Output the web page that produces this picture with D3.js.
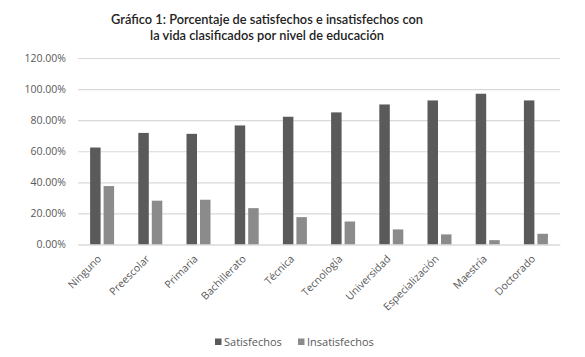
<!DOCTYPE html>
<html lang="es">
<head>
<meta charset="UTF-8">
<title>Gráfico 1</title>
<style>
	body { margin: 0; background: #fff; }
	text { font-family: "Open Sans", sans-serif; }
	.title { font-family: "Lato", sans-serif; font-weight: 600; font-size: 12.8px; fill: #222; }
	.tick text { fill: #595959; font-size: 10.5px; }
</style>
</head>
<body>
<svg id="chart" width="585" height="357"></svg>
<script src="https://cdn.jsdelivr.net/npm/d3@7"></script>
<script>
const niveles = ["Ninguno", "Preescolar", "Primaria", "Bachillerato", "Técnica", "Tecnología",
	"Universidad", "Especialización", "Maestría", "Doctorado"];
const satisfechos = [0.624, 0.718, 0.712, 0.766, 0.822, 0.850, 0.901, 0.927, 0.970, 0.927];
const insatisfechos = [0.376, 0.282, 0.288, 0.234, 0.176, 0.148, 0.097, 0.065, 0.028, 0.069];
const yTicks = [0, 0.2, 0.4, 0.6, 0.8, 1.0, 1.2];
const series = ["Satisfechos", "Insatisfechos"];
const colors = ["#5a5a5a", "#8b8b8b"];

let svg = d3.select("#chart");

let mLeft = 78, mRight = 560, mTop = 58, mBottom = 244.5;

let x = d3.scaleBand().domain(niveles).range([mLeft, mRight]);
let y = d3.scaleLinear().domain([0, 1.2]).range([mBottom, mTop]);

// title
let title = svg.append("text").attr("class", "title").attr("text-anchor", "middle");
title.append("tspan").attr("x", 267).attr("y", 24).text("Gráfico 1: Porcentaje de satisfechos e insatisfechos con");
title.append("tspan").attr("x", 267).attr("y", 39.5).text("la vida clasificados por nivel de educación");

// y axis with grid lines
let yAxis = svg.append("g")
	.attr("transform", "translate(" + mLeft + ",0)")
	.call(d3.axisLeft(y).tickValues(yTicks).tickFormat(d3.format(".2%")).tickSize(-(mRight - mLeft)).tickPadding(12));
yAxis.select(".domain").remove();
yAxis.selectAll(".tick line").attr("stroke", "#d9d9d9").attr("stroke-width", 1.2);

// bars
let bw = 10.5, gap = 3;
let groups = svg.append("g").selectAll("g")
	.data(niveles)
	.join("g");

groups.append("rect")
	.attr("x", d => x(d) + x.bandwidth() / 2 - bw - gap / 2)
	.attr("y", (d, i) => y(satisfechos[i]))
	.attr("width", bw)
	.attr("height", (d, i) => mBottom - y(satisfechos[i]))
	.attr("fill", colors[0]);

groups.append("rect")
	.attr("x", d => x(d) + x.bandwidth() / 2 + gap / 2)
	.attr("y", (d, i) => y(insatisfechos[i]))
	.attr("width", bw)
	.attr("height", (d, i) => mBottom - y(insatisfechos[i]))
	.attr("fill", colors[1]);

// x axis
let xAxis = svg.append("g")
	.attr("transform", "translate(0," + mBottom + ")")
	.call(d3.axisBottom(x).tickSize(0).tickPadding(0));
xAxis.select(".domain").attr("stroke", "#d9d9d9").attr("stroke-width", 1.2);
xAxis.selectAll(".tick text")
	.attr("text-anchor", "end")
	.attr("dy", 0)
	.attr("transform", "translate(0,15) rotate(-45)");

// legend
let legend = svg.append("g").attr("transform", "translate(0,342)");
let lx = [215, 298];
series.forEach((s, i) => {
	legend.append("rect").attr("x", lx[i]).attr("y", -3.5).attr("width", 6.5).attr("height", 6.5).attr("fill", colors[i]);
	legend.append("text").attr("x", lx[i] + 9).attr("y", 4).attr("font-size", 11).attr("fill", "#595959").text(s);
});
</script>
</body>
</html>
